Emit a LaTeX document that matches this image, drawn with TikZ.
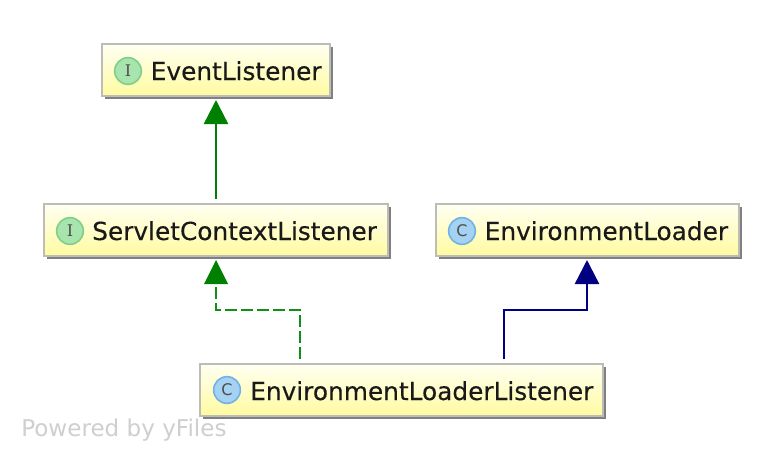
\documentclass[tikz,border=0pt]{standalone}
\usepackage{fontspec}
\setmainfont{DejaVu Sans}
\newfontface\lblfont{DejaVu Sans}[FakeBold=0.25]
\newfontface\badgeserif{DejaVu Serif}
\newfontface\badgesans{DejaVu Sans}
\usetikzlibrary{arrows.meta,shadows}
\definecolor{boxedge}{HTML}{BDBDB8}
\definecolor{shadowc}{HTML}{808080}
\definecolor{ytop}{HTML}{FFFFF2}
\definecolor{ybot}{HTML}{FFFBA0}
\definecolor{igreen}{HTML}{008000}
\definecolor{dgreen}{HTML}{109018}
\definecolor{cblue}{HTML}{000080}
\definecolor{ifill}{HTML}{A8E4AE}
\definecolor{iedge}{HTML}{7FCF8A}
\definecolor{cfill}{HTML}{A5D2F2}
\definecolor{cedge}{HTML}{6FB2E5}
\definecolor{wm}{HTML}{CFCFCF}
\tikzset{
  x=0.75pt,y=-0.75pt,
  umlbox/.style={draw=boxedge,line width=1.7pt,rectangle,inner sep=0pt,
    top color=ytop,bottom color=ybot,
    general shadow={shadow xshift=2.2pt,shadow yshift=-2.2pt,fill=shadowc}},
  lbl/.style={anchor=base west,inner sep=0pt,text=black!90,font=\lblfont\fontsize{18.6pt}{20pt}\selectfont},
  badge/.style={circle,minimum size=20pt,inner sep=0pt,line width=1.2pt,text=black!70},
  ibadge/.style={badge,fill=ifill,draw=iedge,font=\badgeserif\fontsize{12pt}{12pt}\selectfont},
  cbadge/.style={badge,fill=cfill,draw=cedge,font=\badgesans\fontsize{12pt}{12pt}\selectfont},
  inh/.style={line width=1.8pt,-{Triangle[length=18pt,width=18pt]}},
}
\begin{document}
\begin{tikzpicture}
\useasboundingbox (0,0) rectangle (782,460);
\fill[white] (0,0) rectangle (782,460);
\node[umlbox,minimum width=171pt,minimum height=39pt] (el) at (216,70) {};
\node[umlbox,minimum width=258.5pt,minimum height=39pt] (scl) at (216,230) {};
\node[umlbox,minimum width=227.5pt,minimum height=39pt] (envl) at (587.5,230) {};
\node[umlbox,minimum width=302.5pt,minimum height=39pt] (ell) at (401.5,390) {};
\node[ibadge] (i1) at (128,71) {I};
\node[ibadge] (i2) at (70,231) {I};
\node[cbadge] (c1) at (462,231) {C};
\node[cbadge] (c2) at (227,390) {C};
\node[lbl] (t1) at (150.5,80) {EventListener};
\node[lbl] (t2) at (92,240) {ServletContextListener};
\node[lbl] (t3) at (484.5,240) {EnvironmentLoader};
\node[lbl] (t4) at (250,400) {EnvironmentLoaderListener};
\node[anchor=base west,inner sep=0pt,text=wm,font=\fontsize{17.3pt}{18pt}\selectfont] (wm) at (21,436) {Powered by yFiles};
\coordinate (a1) at (216,199);
\coordinate (b1) at (216,100);
\draw[inh,draw=igreen,color=igreen] (a1) -- (b1);
\coordinate (a2) at (300,359);
\coordinate (m2) at (300,310);
\coordinate (n2) at (216,310);
\coordinate (b2) at (216,260);
\coordinate (c2b) at (216,287);
\coordinate (l2) at (204,284);
\coordinate (r2) at (228,284);
\draw[line width=1.8pt,dgreen,dash pattern=on 9pt off 3pt] (c2b) -- (n2) -- (m2) -- (a2);
\fill[igreen] (b2) -- (r2) -- (l2) -- cycle;
\coordinate (a3) at (504,359);
\coordinate (m3) at (504,310);
\coordinate (n3) at (587,310);
\coordinate (b3) at (587,260);
\draw[inh,cblue] (a3) -- (m3) -- (n3) -- (b3);
\end{tikzpicture}
\end{document}
